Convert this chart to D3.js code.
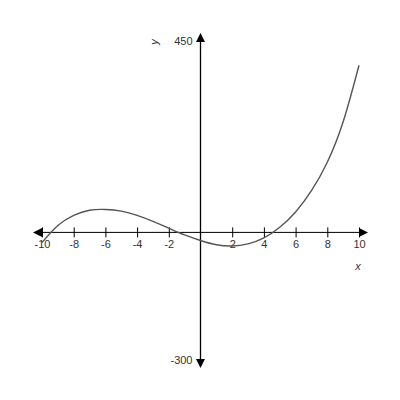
<!DOCTYPE html>
<html>
<head>
<meta charset="utf-8">
<script src="https://cdn.jsdelivr.net/npm/d3@7"></script>
<style>
  body{ margin:0; background:#fff; }
  .tick text{ font-family:"Liberation Sans", Arial, sans-serif; font-size:11px; fill:#333; }
  .lbl{ font-family:"Liberation Sans", Arial, sans-serif; font-size:11px; fill:#333; }
</style>
</head>
<body>
<div id="chart"></div>
<script>
// values
var xs = [-10,-9,-8,-7,-6,-5,-4,-3,-2,-1,0,1,2,3,4,5,6,7,8,9,10];
var ys = [-24,16,40,52,54,50,40,26,10,-6,-19,-29,-32,-27,-13,12,48,98,165,260,393];
var xTicks = [-10,-8,-6,-4,-2,2,4,6,8,10];
var yLabels = [450,-300];

var svg = d3.select("#chart").append("svg")
    .attr("width",400).attr("height",400);

var x = d3.scaleLinear().domain([-10,10]).range([42,359]);
var y = d3.scaleLinear().domain([-300,450]).range([360,41]);

// axis lines with arrows
var ax = svg.append("g");
ax.append("line")
  .attr("x1",x(-10)-6).attr("x2",x(10)+6)
  .attr("y1",y(0)).attr("y2",y(0))
  .attr("stroke","#000").attr("stroke-width",1);
ax.append("line")
  .attr("x1",x(0)).attr("x2",x(0))
  .attr("y1",y(450)-6).attr("y2",y(-300)+6)
  .attr("stroke","#000").attr("stroke-width",1.3);

function arrow(px,py,dir){
  // dir: l r u d
  var L=9,W=4.5,p;
  if(dir=="l") p=[[px,py],[px+L,py-W],[px+L,py+W]];
  if(dir=="r") p=[[px,py],[px-L,py-W],[px-L,py+W]];
  if(dir=="u") p=[[px,py],[px-W,py+L],[px+W,py+L]];
  if(dir=="d") p=[[px,py],[px-W,py-L],[px+W,py-L]];
  ax.append("path").attr("d","M"+p.join("L")+"Z").attr("fill","#000");
}
arrow(x(-10)-9,y(0),"l");
arrow(x(10)+9,y(0),"r");
arrow(x(0),y(450)-8,"u");
arrow(x(0),y(-300)+8,"d");

// x ticks
var xAxis = d3.axisBottom(x).tickValues(xTicks).tickSize(4).tickPadding(3)
  .tickFormat(function(d){ return String(d); });
var gx = svg.append("g").attr("transform","translate(0,"+y(0)+")").call(xAxis);
gx.select(".domain").remove();
gx.selectAll(".tick line").attr("y1",-5).attr("y2",5).attr("stroke","#000");
gx.selectAll(".tick text").attr("y",8).attr("dy","0.71em");

// y end labels
svg.selectAll(".ylab").data(yLabels).enter().append("text")
  .attr("class","lbl ylab")
  .attr("x",x(0)-8)
  .attr("y",function(d){ return y(d); })
  .attr("dy","0.35em")
  .attr("text-anchor","end")
  .text(function(d){ return String(d); });

svg.append("text").attr("class","lbl")
  .attr("transform","translate(158,42) rotate(-90)")
  .attr("text-anchor","middle")
  .attr("font-style","italic")
  .text("y");
svg.append("text").attr("class","lbl")
  .attr("x",358).attr("y",270)
  .attr("text-anchor","middle")
  .attr("font-style","italic")
  .text("x");

// curve
var line = d3.line()
  .x(function(d,i){ return x(xs[i]); })
  .y(function(d){ return y(d); })
  .curve(d3.curveNatural);
svg.append("path").datum(ys)
  .attr("d",line)
  .attr("fill","none")
  .attr("stroke","#555")
  .attr("stroke-width",1.4);
</script>
</body>
</html>
